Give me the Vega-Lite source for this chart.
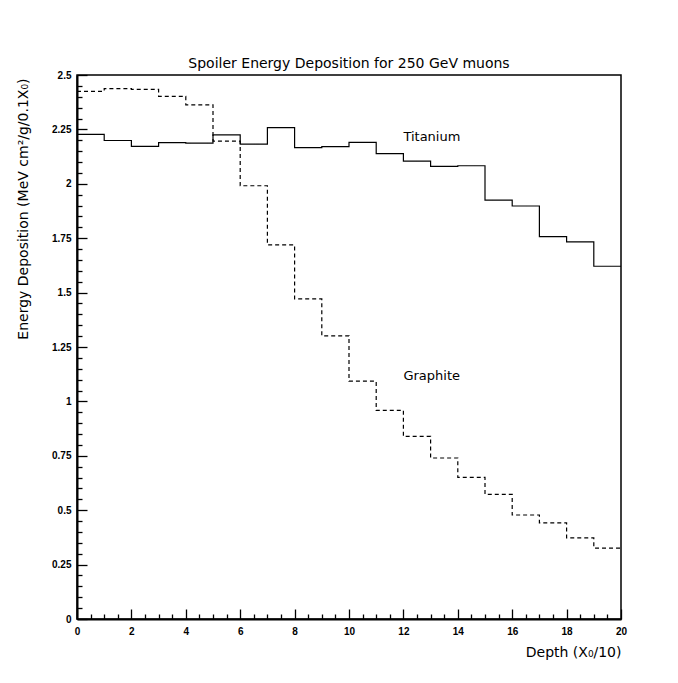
{
  "$schema": "https://vega.github.io/schema/vega-lite/v6.json",
  "width": 544,
  "height": 544,
  "autosize": {"type": "none"},
  "padding": {"left": 77, "top": 75, "right": 57, "bottom": 64},
  "background": "white",
  "title": {"text": "Spoiler Energy Deposition for 250 GeV muons", "fontSize": 14, "fontWeight": "normal", "font": "DejaVu Sans", "anchor": "middle", "offset": -1, "color": "black"},
  "config": {"view": {"stroke": "black", "strokeWidth": 1.5}},
  "datasets": {
    "hist": [
      {"material": "Titanium", "depth": 0, "value": 2.227},
      {"material": "Titanium", "depth": 1, "value": 2.199},
      {"material": "Titanium", "depth": 2, "value": 2.172},
      {"material": "Titanium", "depth": 3, "value": 2.189},
      {"material": "Titanium", "depth": 4, "value": 2.187},
      {"material": "Titanium", "depth": 5, "value": 2.225},
      {"material": "Titanium", "depth": 6, "value": 2.182},
      {"material": "Titanium", "depth": 7, "value": 2.258},
      {"material": "Titanium", "depth": 8, "value": 2.166},
      {"material": "Titanium", "depth": 9, "value": 2.171},
      {"material": "Titanium", "depth": 10, "value": 2.19},
      {"material": "Titanium", "depth": 11, "value": 2.139},
      {"material": "Titanium", "depth": 12, "value": 2.104},
      {"material": "Titanium", "depth": 13, "value": 2.08},
      {"material": "Titanium", "depth": 14, "value": 2.083},
      {"material": "Titanium", "depth": 15, "value": 1.925},
      {"material": "Titanium", "depth": 16, "value": 1.898},
      {"material": "Titanium", "depth": 17, "value": 1.757},
      {"material": "Titanium", "depth": 18, "value": 1.733},
      {"material": "Titanium", "depth": 19, "value": 1.621},
      {"material": "Titanium", "depth": 20, "value": 1.621},
      {"material": "Graphite", "depth": 0, "value": 2.425},
      {"material": "Graphite", "depth": 1, "value": 2.437},
      {"material": "Graphite", "depth": 2, "value": 2.434},
      {"material": "Graphite", "depth": 3, "value": 2.402},
      {"material": "Graphite", "depth": 4, "value": 2.363},
      {"material": "Graphite", "depth": 5, "value": 2.196},
      {"material": "Graphite", "depth": 6, "value": 1.991},
      {"material": "Graphite", "depth": 7, "value": 1.719},
      {"material": "Graphite", "depth": 8, "value": 1.471},
      {"material": "Graphite", "depth": 9, "value": 1.301},
      {"material": "Graphite", "depth": 10, "value": 1.093},
      {"material": "Graphite", "depth": 11, "value": 0.959},
      {"material": "Graphite", "depth": 12, "value": 0.839},
      {"material": "Graphite", "depth": 13, "value": 0.74},
      {"material": "Graphite", "depth": 14, "value": 0.651},
      {"material": "Graphite", "depth": 15, "value": 0.573},
      {"material": "Graphite", "depth": 16, "value": 0.478},
      {"material": "Graphite", "depth": 17, "value": 0.442},
      {"material": "Graphite", "depth": 18, "value": 0.373},
      {"material": "Graphite", "depth": 19, "value": 0.326},
      {"material": "Graphite", "depth": 20, "value": 0.326}
    ],
    "labels": [
      {"label": "Titanium", "depth": 12.0, "value": 2.215},
      {"label": "Graphite", "depth": 12.0, "value": 1.119}
    ]
  },
  "layer": [
    {
      "data": {"name": "hist"},
      "mark": {"type": "line", "interpolate": "step-after", "color": "black", "strokeWidth": 1.2},
      "encoding": {
        "x": {
          "field": "depth", "type": "quantitative",
          "scale": {"domain": [0, 20], "nice": false, "zero": false},
          "axis": {
            "tickCount": 40,
            "labelExpr": "abs(datum.value/2 - round(datum.value/2)) < 0.000001 ? format(datum.value, 'd') : ''",
            "tickSize": {"condition": {"test": "abs(datum.value/2 - round(datum.value/2)) < 0.000001", "value": -10}, "value": -5},
            "labelPadding": 17,
            "labelFontSize": 10,
            "labelFontWeight": "bold",
            "labelFont": "Liberation Sans",
            "labelColor": "black",
            "labelOverlap": false,
            "labelFlush": false,
            "domainColor": "black",
            "domainWidth": 2,
            "tickColor": "black",
            "tickWidth": 1.3,
            "grid": false,
            "title": "Depth (X₀/10)",
            "titleX": 544,
            "titleY": 37,
            "titleAlign": "right",
            "titleBaseline": "alphabetic",
            "titleFont": "DejaVu Sans",
            "titleFontSize": 14,
            "titleFontWeight": "normal",
            "titleColor": "black"
          }
        },
        "y": {
          "field": "value", "type": "quantitative",
          "scale": {"domain": [0, 2.5], "nice": false},
          "axis": {
            "tickCount": 50,
            "labelExpr": "abs(datum.value*4 - round(datum.value*4)) < 0.000001 ? format(datum.value, '~g') : ''",
            "tickSize": {"condition": {"test": "abs(datum.value*4 - round(datum.value*4)) < 0.000001", "value": -10}, "value": -5},
            "labelPadding": 16,
            "labelFontSize": 10,
            "labelFontWeight": "bold",
            "labelFont": "Liberation Sans",
            "labelColor": "black",
            "labelOverlap": false,
            "labelFlush": false,
            "domainColor": "black",
            "domainWidth": 2,
            "tickColor": "black",
            "tickWidth": 1.3,
            "grid": false,
            "title": "Energy Deposition (MeV cm²/g/0.1X₀)",
            "titleAngle": 270,
            "titleX": -50,
            "titleY": 3,
            "titleAlign": "right",
            "titleBaseline": "alphabetic",
            "titleFont": "DejaVu Sans",
            "titleFontSize": 14,
            "titleFontWeight": "normal",
            "titleColor": "black"
          }
        },
        "strokeDash": {
          "field": "material", "type": "nominal",
          "scale": {"domain": ["Titanium", "Graphite"], "range": [[1, 0], [4, 3]]},
          "legend": null
        }
      }
    },
    {
      "data": {"name": "labels"},
      "mark": {"type": "text", "align": "left", "baseline": "middle", "font": "DejaVu Sans", "fontSize": 13, "color": "black"},
      "encoding": {
        "x": {"field": "depth", "type": "quantitative"},
        "y": {"field": "value", "type": "quantitative"},
        "text": {"field": "label", "type": "nominal"}
      }
    }
  ]
}
